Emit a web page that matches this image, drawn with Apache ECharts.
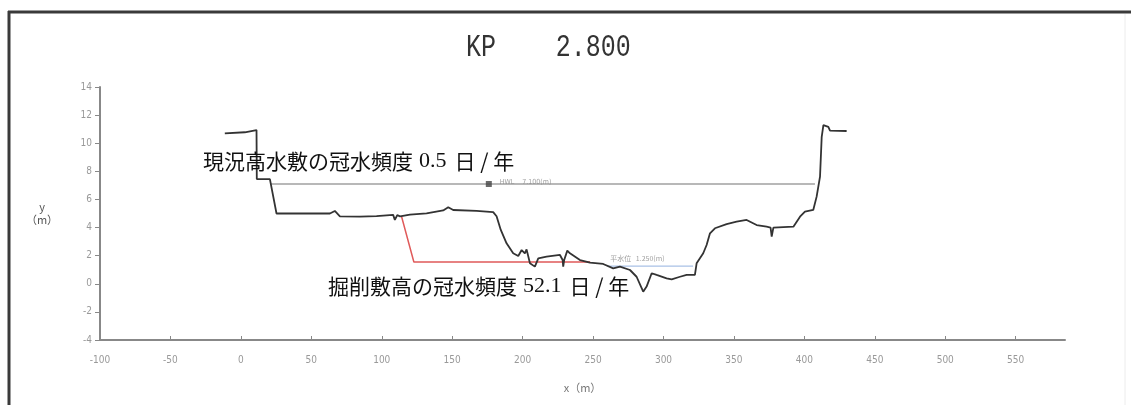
<!DOCTYPE html>
<html>
<head>
<meta charset="utf-8">
<script src="https://cdn.jsdelivr.net/npm/echarts@6/dist/echarts.min.js"></script>
<style>
  html, body { margin: 0; padding: 0; background: #fff; }
  #chart { width: 1131px; height: 405px; }
</style>
</head>
<body>
<div id="chart"></div>
<script>
// Cross-section KP 2.800: distance x (m) vs elevation y (m)
const titleText = 'KP    2.800';

// Existing ground profile
const groundX = [-11.4, 2.8, 11.1, 11.3, 20.6, 25.3, 63.2, 66.7, 70.3, 84.5, 96.3, 108.1, 109.3, 111.0, 113.0,
  120.0, 131.8, 143.6, 147.2, 150.7, 167.3, 179.1, 181.5, 184.5, 188.6, 193.3, 196.9, 199.3, 201.6, 202.8,
  205.2, 208.7, 211.1, 217.0, 226.5, 228.4, 228.8, 229.5, 231.7, 233.6, 240.7, 247.8, 257.2, 264.3, 269.1,
  276.2, 280.9, 285.6, 288.0, 291.6, 295.1, 302.2, 305.8, 311.7, 316.4, 322.3, 323.5, 328.2, 330.6, 333.0,
  336.5, 344.8, 351.9, 359.0, 366.1, 373.2, 376.0, 376.8, 378.0, 392.2, 396.9, 400.4, 406.3, 408.7, 411.1,
  412.3, 413.5, 417.0, 418.2, 430.0];
const groundY = [10.70, 10.78, 10.94, 7.45, 7.45, 5.00, 5.00, 5.18, 4.80, 4.78, 4.82, 4.90, 4.54, 4.88, 4.80,
  4.92, 5.01, 5.22, 5.44, 5.25, 5.18, 5.10, 4.80, 3.83, 2.88, 2.17, 1.98, 2.40, 2.17, 2.45,
  1.46, 1.22, 1.81, 1.93, 2.05, 1.69, 1.22, 1.69, 2.36, 2.17, 1.69, 1.50, 1.41, 1.10, 1.22,
  0.98, 0.50, -0.56, -0.20, 0.75, 0.63, 0.39, 0.32, 0.50, 0.63, 0.63, 1.46, 2.17, 2.76, 3.59,
  3.95, 4.25, 4.42, 4.54, 4.18, 4.06, 4.00, 3.35, 4.00, 4.06, 4.77, 5.13, 5.25, 6.20, 7.62,
  10.46, 11.29, 11.17, 10.89, 10.87];

// Planned excavation line
const cutX = [114.1, 122.8, 248.0];
const cutY = [4.77, 1.55, 1.55];

// High water level (HWL)
const hwlX = [21.0, 407.5];
const hwlLevel = 7.1;
const hwlMarkX = 176;
const hwlLabel = 'HWL    7.100(m)';

// Normal water level
const lwlX = [260, 321];
const lwlLevel = 1.25;
const lwlLabel = '平水位   1.250(m)';

// Tick values
const xTicks = [-100, -50, 0, 50, 100, 150, 200, 250, 300, 350, 400, 450, 500, 550];
const yTicks = [-4, -2, 0, 2, 4, 6, 8, 10, 12, 14];

// Annotations
const note1 = { pre: '現況高水敷の冠水頻度', num: '0.5', post: '日 / 年' };
const note2 = { pre: '掘削敷高の冠水頻度', num: '52.1', post: '日 / 年' };

const zip = (xs, ys) => xs.map((x, i) => [x, ys[i]]);

const chart = echarts.init(document.getElementById('chart'), null, { renderer: 'canvas' });

const tickFont = "'Liberation Sans Narrow', 'DejaVu Sans Condensed', 'Liberation Sans', sans-serif";
const monoFont = "'Liberation Mono', 'DejaVu Sans Mono', monospace";
const cjk = "'Noto Sans CJK JP', sans-serif";
const serif = "'Liberation Serif', 'DejaVu Serif', serif";

function noteRich(n) {
  return {
    text: '{a|' + n.pre + '}{b|' + n.num + '}{a|' + n.post + '}',
    rich: {
      a: { fontFamily: cjk, fontSize: 21, fill: '#111' },
      b: { fontFamily: serif, fontSize: 22, fill: '#111', padding: [0, 8, 0, 6] }
    }
  };
}

const option = {
  backgroundColor: '#ffffff',
  animation: false,
  grid: { left: 100, right: 66, top: 87, bottom: 65 },
  xAxis: {
    type: 'value',
    min: -100,
    max: 585,
    name: 'x（m）',
    nameLocation: 'middle',
    nameGap: 42,
    nameTextStyle: { fontFamily: cjk, fontSize: 11, color: '#777' },
    axisLine: { onZero: false, lineStyle: { color: '#888', width: 2 } },
    axisTick: { show: true, inside: true, length: 4, lineStyle: { color: '#888' }, customValues: xTicks },
    axisLabel: { customValues: xTicks, margin: 15, fontFamily: tickFont, fontSize: 10, color: '#999' },
    splitLine: { show: false }
  },
  yAxis: {
    type: 'value',
    min: -4,
    max: 14,
    interval: 2,
    name: 'y\n（m）',
    nameLocation: 'middle',
    nameRotate: 0,
    nameGap: 58,
    nameTextStyle: { fontFamily: cjk, fontSize: 11, color: '#555', lineHeight: 13, align: 'center' },
    axisLine: { show: true, onZero: false, lineStyle: { color: '#888', width: 2 } },
    axisTick: { show: true, length: 5, lineStyle: { color: '#888' }, customValues: yTicks },
    axisLabel: { customValues: yTicks, margin: 8, fontFamily: tickFont, fontSize: 10, color: '#999' },
    splitLine: { show: false }
  },
  series: [
    {
      name: 'HWL',
      type: 'line',
      data: hwlX.map(x => [x, hwlLevel]),
      symbol: 'none',
      lineStyle: { color: '#a0a0a0', width: 1.5 },
      z: 2
    },
    {
      name: '平水位',
      type: 'line',
      data: lwlX.map(x => [x, lwlLevel]),
      symbol: 'none',
      lineStyle: { color: '#a9c1e6', width: 1.2 },
      z: 2
    },
    {
      name: '掘削線',
      type: 'line',
      data: zip(cutX, cutY),
      symbol: 'none',
      lineStyle: { color: '#e05a5a', width: 1.5 },
      z: 3
    },
    {
      name: '現況河床',
      type: 'line',
      data: zip(groundX, groundY),
      symbol: 'none',
      lineStyle: { color: '#333', width: 1.8 },
      z: 4
    },
    {
      name: 'HWL marker',
      type: 'scatter',
      data: [[hwlMarkX, hwlLevel]],
      symbol: 'rect',
      symbolSize: 6,
      itemStyle: { color: '#444' },
      label: {
        show: true, position: 'right', distance: 8, offset: [0, -2],
        formatter: hwlLabel, fontFamily: tickFont, fontSize: 7, color: '#888'
      },
      z: 5
    },
    {
      name: '平水位 label',
      type: 'scatter',
      data: [[lwlX[0], lwlLevel]],
      symbol: 'circle',
      symbolSize: 0,
      label: {
        show: true, position: 'right', distance: 3, offset: [0, -8],
        formatter: lwlLabel, fontFamily: cjk, fontSize: 7, color: '#888'
      },
      z: 5
    }
  ],
  graphic: [
    // outer frame
    { type: 'line', shape: { x1: 9, y1: 11, x2: 9, y2: 405 }, style: { stroke: '#3a3a3a', lineWidth: 3 } },
    { type: 'line', shape: { x1: 8, y1: 12, x2: 1131, y2: 12 }, style: { stroke: '#3a3a3a', lineWidth: 3 } },
    { type: 'line', shape: { x1: 1125, y1: 14, x2: 1125, y2: 405 }, style: { stroke: '#ececec', lineWidth: 1 } },
    // title in a narrow monospaced face
    {
      type: 'text', x: 466, y: 48, scaleX: 0.78,
      style: { text: titleText, font: "normal 32px " + monoFont, fill: '#333', align: 'left', verticalAlign: 'middle' },
      z: 10
    },
    // annotations
    { type: 'text', x: 203, y: 161, style: Object.assign(noteRich(note1), { verticalAlign: 'middle', align: 'left' }), z: 10 },
    { type: 'text', x: 328, y: 286, style: Object.assign(noteRich(note2), { verticalAlign: 'middle', align: 'left' }), z: 10 }
  ]
};

chart.setOption(option);
</script>
</body>
</html>
